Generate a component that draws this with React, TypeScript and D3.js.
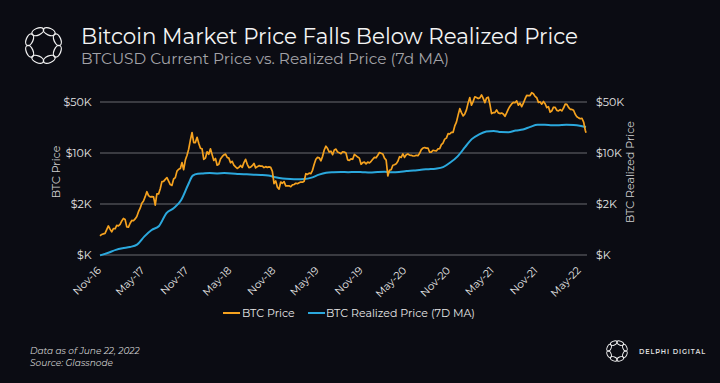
import React from "react";
import * as d3 from "d3";

// ---------- DATA ----------
// BTC price, weekly closes, grouped by year (each year starts on its first listed Sunday)
const priceYearStarts = ["2016-11-27", "2017-01-01", "2018-01-07", "2019-01-06", "2020-01-05", "2021-01-03", "2022-01-02"];
const price2016 = [730, 765, 778, 790, 890];
const price2017 = [
  1000, 905, 830, 920, 915,
  1020, 1000, 1050, 1170,
  1270, 1230, 970, 965,
  1090, 1190, 1180, 1250, 1350,
  1570, 1750, 2050, 2200,
  2520, 2950, 2600, 2500,
  2520, 2500, 1930, 2750, 2750,
  3230, 4050, 4080, 4350,
  4600, 4120, 3700, 3600,
  4400, 4600, 5650, 6000, 6150,
  7400, 5900, 8000, 9300,
  11300, 15000, 19100, 13900, 13900,
];
const price2018 = [
  16400, 13600, 11600, 11400,
  8200, 8500, 10400, 9600,
  11400, 9500, 7900, 8400,
  6800, 7000, 8300, 8900, 9400,
  9650, 8700, 8500, 7350,
  7700, 6800, 6450, 6150,
  6350, 6750, 6350, 7400, 8200,
  7000, 6300, 6400, 6700,
  7200, 6250, 6500, 6700, 6600,
  6600, 6300, 6500, 6350,
  6450, 6350, 5600, 3800,
  4150, 3400, 3200, 4000, 3850,
];
const price2019 = [
  4050, 3550, 3550, 3550,
  3450, 3650, 3700, 3850,
  3800, 3900, 4000, 3980, 4100,
  5200, 5100, 5300, 5200,
  5800, 7000, 8200, 8700,
  8600, 7800, 9000, 11000, 12400,
  11500, 10300, 10600, 9500,
  11000, 11300, 10300, 10100,
  9800, 10400, 10300, 10000, 8050,
  7900, 8300, 8200, 9550,
  9200, 8800, 8500, 7000,
  7400, 7500, 7100, 7500, 7300,
];
const price2020 = [
  7700, 8200, 8700, 8600,
  9300, 10150, 9900, 9700,
  8500, 8000, 4850, 5800, 5900,
  6800, 6900, 7100, 7700,
  8900, 8700, 9700, 8700, 9450,
  9700, 9350, 9300, 9100,
  9100, 9300, 9200, 9900,
  11100, 11700, 11900, 11650, 11700,
  10250, 10300, 10900, 10750,
  10650, 11400, 11500, 13000,
  13700, 15500, 16000, 18400, 18200,
  19200, 19200, 23500, 26500,
];
const price2021 = [
  33000, 40500, 35800, 32200, 34300,
  39000, 48600, 57500, 45200,
  51000, 59000, 57500, 55800,
  57000, 62500, 56000, 49000,
  56600, 58200, 46500, 34700, 35700,
  35800, 39000, 35500, 34700,
  35300, 34200, 31800, 35400,
  39900, 43800, 47000, 49300, 48800,
  51800, 45200, 48300, 43200,
  48200, 55000, 61500, 61300, 61300,
  67000, 65000, 59700, 57200,
  49400, 50100, 46700, 50800,
];
const price2022 = [
  47300, 41900, 43100, 36300, 37900,
  42400, 42200, 38400, 37700,
  39400, 37800, 41300, 46800,
  46400, 42200, 39700, 39500,
  38500, 34000, 31300, 30300, 29500,
  29900, 26600, 20500,
];
const priceEndDate = "2022-06-22";
const priceEndValue = 19000;

// BTC realized price (7D MA)
const realizedDates = [
  "2016-11-27", "2017-01-01", "2017-02-01", "2017-03-01", "2017-04-01", "2017-05-01", "2017-06-01",
  "2017-07-01", "2017-08-01", "2017-09-01", "2017-10-01", "2017-11-01", "2017-12-01", "2017-12-20",
  "2018-01-10", "2018-02-01", "2018-03-01", "2018-04-01", "2018-05-01", "2018-06-01", "2018-07-01",
  "2018-08-01", "2018-09-01", "2018-10-01", "2018-11-01", "2018-12-01", "2019-01-01", "2019-02-01",
  "2019-03-01", "2019-04-01", "2019-05-01", "2019-06-01", "2019-07-01", "2019-08-01", "2019-09-01",
  "2019-10-01", "2019-11-01", "2019-12-01", "2020-01-01", "2020-02-01", "2020-03-01", "2020-04-01",
  "2020-05-01", "2020-06-01", "2020-07-01", "2020-08-01", "2020-09-01", "2020-10-01", "2020-11-01",
  "2020-12-01", "2021-01-01", "2021-02-01", "2021-03-01", "2021-04-01", "2021-05-01", "2021-06-01",
  "2021-07-01", "2021-08-01", "2021-09-01", "2021-10-01", "2021-11-01", "2021-12-01", "2022-01-01",
  "2022-02-01", "2022-03-01", "2022-04-01", "2022-05-01", "2022-06-01", "2022-06-22",
];
const realizedValues = [
  395, 430, 470, 495, 515, 555, 720,
  880, 1000, 1500, 1750, 2250, 3700, 4900,
  5200, 5250, 5300, 5250, 5300, 5250, 5150,
  5100, 5050, 5000, 4900, 4650, 4480, 4400,
  4370, 4400, 4600, 5050, 5350, 5450, 5500,
  5450, 5500, 5450, 5400, 5500, 5550, 5450,
  5500, 5650, 5750, 5900, 6000, 6100, 6400,
  7400, 9000, 12000, 15500, 18000, 19700, 20100,
  19400, 19300, 20300, 21000, 22800, 24300, 24300,
  24000, 24100, 24300, 24200, 23500, 22700,
];

const xTickDates = [
  "2016-11-01", "2017-05-01", "2017-11-01", "2018-05-01", "2018-11-01", "2019-05-01",
  "2019-11-01", "2020-05-01", "2020-11-01", "2021-05-01", "2021-11-01", "2022-05-01",
];
const xTickLabels = [
  "Nov-16", "May-17", "Nov-17", "May-18", "Nov-18", "May-19",
  "Nov-19", "May-20", "Nov-20", "May-21", "Nov-21", "May-22",
];
const yTickValues = [400, 2000, 10000, 50000];
const yTickLabels = ["$K", "$2K", "$10K", "$50K"];

const seriesNames = ["BTC Price", "BTC Realized Price (7D MA)"];

// ---------- STYLE ----------
const W = 720;
const H = 383;
const BG = "#0b0c13";
const ORANGE = "#f5a21f";
const BLUE = "#2ba8dd";
const GRID = "#4b4b52";
const FONT = "Montserrat, 'Open Sans', 'Noto Sans', sans-serif";

const parse = d3.utcParse("%Y-%m-%d");

type Pt = { date: Date; value: number };

function buildPrice(): Pt[] {
  const years = [price2016, price2017, price2018, price2019, price2020, price2021, price2022];
  const out: Pt[] = [];
  years.forEach((arr, k) => {
    const start = parse(priceYearStarts[k]) as Date;
    arr.forEach((v, i) => out.push({ date: d3.utcDay.offset(start, 7 * i), value: v }));
  });
  out.push({ date: parse(priceEndDate) as Date, value: priceEndValue });
  return out;
}

function Ring({ cx, cy, r, rx, ry, sw }: { cx: number; cy: number; r: number; rx: number; ry: number; sw: number }) {
  const n = 8;
  return (
    <g>
      {d3.range(n).map((i) => {
        const a = (i / n) * Math.PI * 2 + Math.PI / 8;
        const x = cx + r * Math.cos(a);
        const y = cy + r * Math.sin(a);
        const deg = (a * 180) / Math.PI + 90;
        return (
          <ellipse key={i} cx={x} cy={y} rx={rx} ry={ry} transform={`rotate(${deg},${x},${y})`}
            fill="none" stroke="#f2f2f2" strokeWidth={sw} />
        );
      })}
    </g>
  );
}

export default function App() {
  const price = buildPrice();
  const realized: Pt[] = realizedDates.map((d, i) => ({ date: parse(d) as Date, value: realizedValues[i] }));

  const x = d3.scaleUtc()
    .domain([parse("2016-11-27") as Date, parse("2022-06-22") as Date])
    .range([100, 586]);
  const y = d3.scaleLog().domain([400, 50000]).range([255, 102]);

  const priceLine = d3.line<Pt>().x((d) => x(d.date)).y((d) => y(d.value)).curve(d3.curveLinear);
  const realizedLine = d3.line<Pt>().x((d) => x(d.date)).y((d) => y(d.value)).curve(d3.curveMonotoneX);

  const gridX0 = 100;
  const gridX1 = 587;

  return (
    <div style={{ position: "absolute", left: 0, top: 0, width: W, height: H, background: BG }}>
      <svg width={W} height={H} viewBox={`0 0 ${W} ${H}`} style={{ display: "block" }} fontFamily={FONT}>
        <rect x={0} y={0} width={W} height={H} fill={BG} />

        {/* header */}
        <Ring cx={43.5} cy={45.5} r={15} rx={6.2} ry={3.4} sw={1.3} />
        <text x={81} y={44.3} fill="#f4f4f4" fontSize={21.5} textLength={497} lengthAdjust="spacingAndGlyphs">
          Bitcoin Market Price Falls Below Realized Price
        </text>
        <text x={81} y={63.5} fill="#a3a3a8" fontSize={15} textLength={368} lengthAdjust="spacingAndGlyphs">
          BTCUSD Current Price vs. Realized Price (7d MA)
        </text>

        {/* grid + y ticks */}
        {yTickValues.map((v, i) => (
          <g key={v}>
            <line x1={gridX0} x2={gridX1} y1={y(v)} y2={y(v)} stroke={GRID} strokeWidth={1.4} />
            <text x={91.5} y={y(v)} dy="0.35em" textAnchor="end" fill="#e6e6e6" fontSize={11}>
              {yTickLabels[i]}
            </text>
            <text x={596} y={y(v)} dy="0.35em" textAnchor="start" fill="#e6e6e6" fontSize={11}>
              {yTickLabels[i]}
            </text>
          </g>
        ))}

        {/* axis titles */}
        <text transform="translate(56,172) rotate(-90)" textAnchor="middle" dy="0.35em" fill="#cfcfcf" fontSize={11}>
          BTC Price
        </text>
        <text transform="translate(630,172) rotate(-90)" textAnchor="middle" dy="0.35em" fill="#cfcfcf" fontSize={11}>
          BTC Realized Price
        </text>

        {/* x tick labels */}
        {xTickDates.map((d, i) => {
          const px = x(parse(d) as Date) + 8;
          return (
            <text key={d} transform={`translate(${px},271) rotate(-45)`} textAnchor="end" fill="#e6e6e6" fontSize={10.5}>
              {xTickLabels[i]}
            </text>
          );
        })}

        {/* series */}
        <path d={realizedLine(realized) || ""} fill="none" stroke={BLUE} strokeWidth={2} strokeLinejoin="round" />
        <path d={priceLine(price) || ""} fill="none" stroke={ORANGE} strokeWidth={1.7} strokeLinejoin="round" />

        {/* legend */}
        <line x1={223} x2={240} y1={313} y2={313} stroke={ORANGE} strokeWidth={2} />
        <text x={242} y={313} dy="0.35em" fill="#e6e6e6" fontSize={11}>{seriesNames[0]}</text>
        <line x1={308} x2={325} y1={313} y2={313} stroke={BLUE} strokeWidth={2} />
        <text x={326} y={313} dy="0.35em" fill="#e6e6e6" fontSize={11}>{seriesNames[1]}</text>

        {/* footer */}
        <text x={30} y={354} fill="#d0d0d0" fontSize={9} fontStyle="italic">Data as of  June 22, 2022</text>
        <text x={30} y={366} fill="#d0d0d0" fontSize={9} fontStyle="italic">Source: Glassnode</text>

        <Ring cx={617} cy={351} r={8.5} rx={3.6} ry={2} sw={0.9} />
        <text x={639} y={353.5} fill="#e0e0e0" fontSize={6.5} fontWeight={600} letterSpacing={0.9}>DELPHI DIGITAL</text>
      </svg>
    </div>
  );
}
